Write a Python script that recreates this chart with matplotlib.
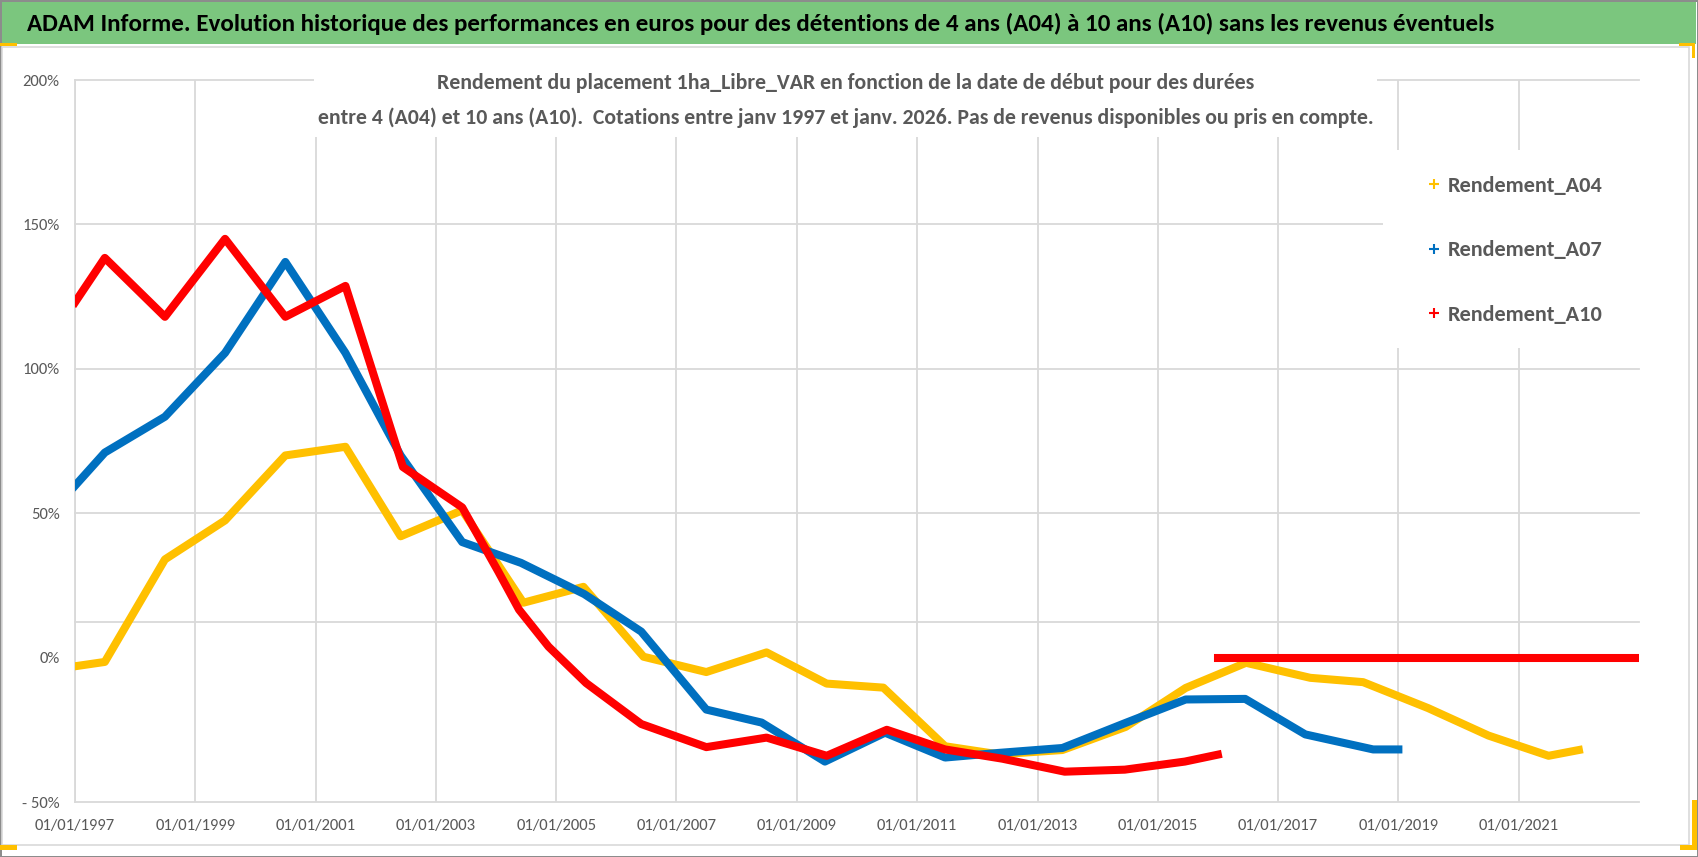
import numpy as np
import pandas as pd
import matplotlib
matplotlib.use('Agg')
import matplotlib.pyplot as plt
import matplotlib.dates as mdates
from matplotlib.patches import Rectangle
from matplotlib.lines import Line2D

# Values (rendement en %)
a04_dates = ['1997-01-01', '1997-07-01', '1998-07-01', '1999-07-01', '2000-07-01', '2001-07-01',
             '2002-06-01', '2003-06-10', '2004-06-15', '2005-06-15', '2006-06-15', '2007-07-01',
             '2008-07-01', '2009-07-01', '2010-06-10', '2011-06-20', '2012-05-10', '2013-06-01',
             '2014-06-20', '2015-06-20', '2016-06-20', '2017-07-15', '2018-06-01', '2019-07-01',
             '2020-07-01', '2021-07-01', '2022-01-01']
a04_vals = [-3, -1.5, 34, 47.5, 70, 73, 42, 51, 19, 24.5, 0.3, -5, 1.8, -9, -10.4, -30.7, -33.5,
            -32, -24, -10.5, -1.8, -7, -8.5, -17.5, -27, -34, -32]

a07_dates = ['1997-01-01', '1997-07-01', '1998-07-01', '1999-07-01', '2000-07-01', '2001-07-01',
             '2002-06-01', '2003-06-10', '2004-06-01', '2005-06-20', '2006-06-01', '2007-07-01',
             '2008-06-01', '2009-06-20', '2010-06-20', '2011-06-20', '2012-05-10', '2013-06-01',
             '2014-06-20', '2015-06-20', '2016-06-15', '2017-06-15', '2018-08-01', '2019-01-01']
a07_vals = [59.5, 71, 83.4, 105.5, 137, 105.5, 70, 40, 32.8, 22, 9, -18, -22.5, -36, -26, -34.6,
            -33, -31.3, -22.6, -14.5, -14.3, -26.6, -31.8, -31.8]

a10_dates = ['1997-01-01', '1997-07-01', '1998-07-01', '1999-07-01', '2000-07-01', '2001-07-01',
             '2002-06-15', '2003-06-10', '2004-01-15', '2004-05-20', '2004-11-15', '2005-07-01',
             '2006-06-01', '2007-07-01', '2008-07-01', '2009-07-01', '2010-07-01', '2011-06-20',
             '2012-06-01', '2013-06-15', '2014-06-15', '2015-06-15', '2016-01-01']
a10_vals = [123, 138.4, 118, 145, 118, 128.7, 66, 52, 29.8, 16.6, 3.8, -8.8, -23, -31, -27.7,
            -34, -25, -31.8, -35, -39.5, -38.8, -36, -33.6]
# no return available after 2016 -> shown at 0
a10_zero_dates = ['2016-01-01', '2023-01-01']
a10_zero_vals = [0, 0]

series_labels = ['Rendement_A04', 'Rendement_A07', 'Rendement_A10']
series_colors = ['#FFC000', '#0070C0', '#FF0000']

y_ticks = [-50, 0, 50, 100, 150, 200]
y_ticklabels = ['- 50%', '0%', '50%', '100%', '150%', '200%']

title = ("ADAM Informe. Evolution historique des performances en euros pour des détentions "
         "de 4 ans (A04) à 10 ans (A10) sans les revenus éventuels")
subtitle_1 = "Rendement du placement 1ha_Libre_VAR en fonction de la date de début pour des durées"
subtitle_2 = ("entre 4 (A04) et 10 ans (A10).  Cotations entre janv 1997 et janv. 2026. "
              "Pas de revenus disponibles ou pris en compte.")

# Carlito = Calibri metrics
plt.rcParams['font.family'] = ['Carlito', 'DejaVu Sans']

W, H = 1698, 857
def fx(px):
    return px / W
def fy(py):
    return 1 - py / H

fig = plt.figure(figsize=(W / 100, H / 100), dpi=100)
fig.patch.set_edgecolor('#8C8C8C')
fig.patch.set_linewidth(2)

# chart area frame + title bar
fig.add_artist(Rectangle((fx(2), fy(845)), fx(1689) - fx(2), fy(47) - fy(845),
                         transform=fig.transFigure, facecolor='none', edgecolor='#D9D9D9', lw=1.2, zorder=0))
fig.add_artist(Rectangle((fx(2), fy(44)), fx(1696) - fx(2), fy(2) - fy(44),
                         transform=fig.transFigure, facecolor='#7BC67E', edgecolor='none', zorder=0))
# small yellow selection handles
for (x0, y0, x1, y1) in [(0, 43, 17, 46), (0, 845, 17, 850), (1679, 43, 1695, 46), (1692, 43, 1695, 58),
                         (1692, 800, 1697, 850), (1680, 845, 1697, 850)]:
    fig.add_artist(Rectangle((fx(x0), fy(y1)), fx(x1) - fx(x0), fy(y0) - fy(y1),
                             transform=fig.transFigure, facecolor='#FFC000', edgecolor='none', zorder=1))

ax = fig.add_axes([fx(75), fy(802), fx(1639) - fx(75), fy(80) - fy(802)])

ax.plot(pd.to_datetime(a04_dates), a04_vals, color=series_colors[0], lw=5.8, zorder=3)
ax.plot(pd.to_datetime(a07_dates), a07_vals, color=series_colors[1], lw=5.8, zorder=4)
ax.plot(pd.to_datetime(a10_dates), a10_vals, color=series_colors[2], lw=5.8, zorder=5)
ax.plot(pd.to_datetime(a10_zero_dates), a10_zero_vals, color=series_colors[2], lw=5.8, zorder=5)

ax.set_xlim(pd.Timestamp('1997-01-01'), pd.Timestamp('2023-01-01'))
ax.set_ylim(-50, 200)
ax.set_xticks(pd.date_range('1997-01-01', '2021-01-01', freq='2YS'))
ax.xaxis.set_major_formatter(mdates.DateFormatter('%d/%m/%Y'))
ax.set_yticks(y_ticks)
ax.set_yticklabels(y_ticklabels)
ax.tick_params(axis='both', length=0, colors='#595959', labelsize=12)
ax.tick_params(axis='y', pad=11)
ax.tick_params(axis='x', pad=12)

ax.grid(axis='x', color='#D9D9D9', lw=1.3)
for yv in [12.5, 50, 100, 150, 200]:
    ax.axhline(yv, color='#D9D9D9', lw=1.3, zorder=1, clip_on=False)
ax.set_axisbelow(True)
for s in ['top', 'right']:
    ax.spines[s].set_visible(False)
for s in ['left', 'bottom']:
    ax.spines[s].set_color('#D9D9D9')
    ax.spines[s].set_linewidth(1.3)

# white boxes behind the chart title and the legend
fig.add_artist(Rectangle((fx(314), fy(137)), fx(1377) - fx(314), fy(55) - fy(137),
                         transform=fig.transFigure, facecolor='white', edgecolor='none', zorder=1))
fig.add_artist(Rectangle((fx(1383), fy(348)), fx(1645) - fx(1383), fy(150) - fy(348),
                         transform=fig.transFigure, facecolor='white', edgecolor='none', zorder=1))

handles = [Line2D([], [], ls='none', marker='+', ms=7, mew=1.5, color=c) for c in series_colors]
fig.legend(handles, series_labels, loc='upper left', bbox_to_anchor=(fx(1428), fy(176)),
           bbox_transform=fig.transFigure, frameon=False, labelcolor='#595959',
           prop={'weight': 'bold', 'size': 16}, handlelength=0.5, handletextpad=0.4,
           labelspacing=2.0, borderpad=0, borderaxespad=0)

renderer = fig.canvas.get_renderer()
def fit_width(t, width_px):
    w = t.get_window_extent(renderer=renderer).width
    t.set_fontsize(t.get_fontsize() * width_px / w)

t = fig.text(fx(27), fy(24), title, ha='left', va='center', fontsize=20,
             fontweight='bold', color='black')
fit_width(t, 1468)
s1 = fig.text(fx(846), fy(83), subtitle_1, ha='center', va='center', fontsize=15,
              fontweight='bold', color='#595959')
s2 = fig.text(fx(846), fy(118), subtitle_2, ha='center', va='center', fontsize=15,
              fontweight='bold', color='#595959')
fit_width(s2, 1061)
s1.set_fontsize(s2.get_fontsize())

fig.savefig('out.png', dpi=100)
